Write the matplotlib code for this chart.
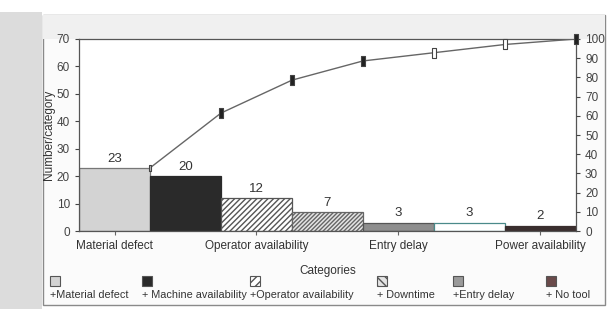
import numpy as np
import matplotlib
matplotlib.use("Agg")
import matplotlib.pyplot as plt
from matplotlib.patches import Rectangle
from matplotlib.path import Path

# ---------------------------------------------------------------
# data
# ---------------------------------------------------------------
categories = ["Material defect", "Machine availability", "Operator availability",
              "Downtime", "Entry delay", "Power availability", "No tool"]
counts = [23, 20, 12, 7, 3, 3, 2]
tick_labels = ["Material defect", "Operator availability", "Entry delay", "Power availability"]
legend_labels = ["+Material defect", "+ Machine availability", "+Operator availability",
                 "+ Downtime", "+Entry delay", "+ No tool"]

# styles
bar_colors = ["#d3d3d3", "#2a2a2a", "#ffffff", "#e4e4e4", "#8e8e8e", "#ffffff", "#3a2e2e"]
bar_edges = ["#777777", "#2a2a2a", "#555555", "#666666", "#555555", "#4a8a8a", "#3a2e2e"]
bar_hatch = [None, None, "//////", "////////", None, None, None]
legend_colors = ["#d3d3d3", "#2a2a2a", "#ffffff", "#e4e4e4", "#9a9a9a", "#6a4a4a"]
legend_hatch = [None, None, "////", "\\\\\\\\", None, None]

plt.rcParams['font.family'] = ['Liberation Sans', 'DejaVu Sans']

fig = plt.figure(figsize=(6.11, 3.09), dpi=100)
fig.patch.set_facecolor("white")

# scanned page look: grey strip left + frame (drawn behind the axes)
fig.patches.append(Rectangle((0, 0), 0.068, 0.96, transform=fig.transFigure,
                             facecolor="#dcdcdc", edgecolor="none", zorder=-10))
fig.patches.append(Rectangle((0.0704, 0.013), 0.92, 0.938, transform=fig.transFigure,
                             facecolor="#fbfbfb", edgecolor="#8a8a8a", lw=1.0, zorder=-9))
fig.patches.append(Rectangle((0.0704, 0.874), 0.92, 0.077, transform=fig.transFigure,
                             facecolor="#f0f0f0", edgecolor="none", zorder=-8))

ax = fig.add_axes([0.1293, 0.2524, 0.8134, 0.6214])
ax.set_facecolor("white")
x = np.arange(len(counts))
for i in x:
    ax.bar(i, counts[i], width=1.0, color=bar_colors[i], edgecolor=bar_edges[i],
           hatch=bar_hatch[i], linewidth=0.9, zorder=2)
    ax.text(i, counts[i] + 1.2, str(counts[i]), ha="center", va="bottom",
            fontsize=9.5, color="#333333")

ax.set_xlim(-0.5, len(counts) - 0.5)
ax.set_ylim(0, 70)
ax.set_yticks(range(0, 71, 10))
ax.set_xticks(x[::2])
ax.set_xticklabels(tick_labels, fontsize=8.5, color="#333333")
ax.tick_params(axis="y", labelsize=8.5, colors="#444444", length=3, width=0.8)
ax.tick_params(axis="x", length=3, width=0.8, colors="#666666", labelcolor="#333333")
ax.set_ylabel("Number/category", fontsize=8.5, color="#333333", labelpad=1)
ax.set_xlabel("Categories", fontsize=8.5, color="#333333", labelpad=9)
for sp in ax.spines.values():
    sp.set_color("#555555")
    sp.set_linewidth(0.9)

# cumulative percentage on right axis
cum = np.cumsum(counts) / np.sum(counts) * 100
ax2 = ax.twinx()
ax2.set_ylim(0, 100)
ax2.set_yticks(range(0, 101, 10))
ax2.tick_params(axis="y", labelsize=8.5, colors="#444444", length=3, width=0.8)
for sp in ax2.spines.values():
    sp.set_visible(False)

rect_marker = Path([(-0.45, -1), (0.45, -1), (0.45, 1), (-0.45, 1), (-0.45, -1)],
                   [Path.MOVETO, Path.LINETO, Path.LINETO, Path.LINETO, Path.CLOSEPOLY])
xc = x + 0.5
ax2.plot(xc, cum, color="#666666", lw=1.0, zorder=3)
face = ["#bbbbbb", "#222222", "#222222", "#222222", "white", "white", "#222222"]
for i in range(len(xc)):
    ax2.plot(xc[i], cum[i], marker=rect_marker, markersize=7 if i else 4,
             markerfacecolor=face[i], markeredgecolor="#444444",
             markeredgewidth=0.8, zorder=4, clip_on=False)

# legend: swatch above "+ label"
leg_x = [50, 142, 250, 377, 453, 546]
for lx, lab, c, h in zip(leg_x, legend_labels, legend_colors, legend_hatch):
    fig.patches.append(Rectangle((lx / 611, 1 - 286 / 309), 10 / 611, 10 / 309,
                                 transform=fig.transFigure, facecolor=c,
                                 edgecolor="#555555", hatch=h, lw=0.8, zorder=3))
    fig.text(lx / 611, 1 - 295 / 309, lab, fontsize=7.8, color="#333333",
             ha="left", va="center")

fig.savefig("out.png", dpi=100)
